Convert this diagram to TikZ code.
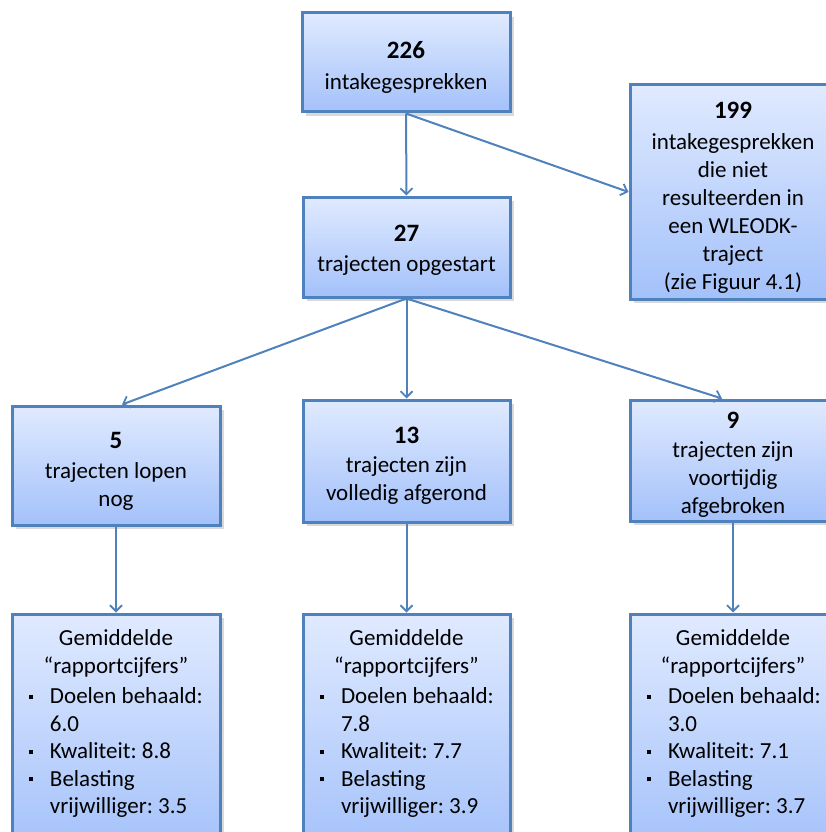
\documentclass[tikz,border=0pt]{standalone}
\usepackage{fontspec}
\setmainfont{Carlito}
\usetikzlibrary{arrows.meta,shadows,calc}
\definecolor{bordc}{RGB}{79,129,189}
\definecolor{topc}{RGB}{224,234,255}
\definecolor{botc}{RGB}{163,193,250}
\newcommand\bulitem[1]{\par\hangindent=26pt\hangafter=1\noindent\makebox[26pt][l]{\hspace{5pt}\raisebox{5pt}{\rule{4pt}{4pt}}}#1\par}
\newcommand\numtxt[1]{{\fontsize{25}{28}\selectfont\textbf{#1}}}
% boxtext{width}{height}{top gap}{content}
\newcommand\boxtext[4]{\parbox[c][#2][t]{#1}{\fontsize{23}{28}\selectfont\vspace*{#3}\centering #4\par}}
\newcommand\listtext[5]{\parbox[c][240pt][t]{#1}{\fontsize{23}{27.5}\selectfont\vspace*{16pt}\centering
  Gemiddelde\\“rapportcijfers”\par\vspace{3pt}\raggedright\frenchspacing\leftskip=12pt\relax
  \bulitem{Doelen behaald:\newline #2}
  \bulitem{Kwaliteit: #3}
  \bulitem{Belasting\newline vrijwilliger: #4}#5}}
\tikzset{
  box/.style={draw=bordc, line width=3pt, top color=topc, bottom color=botc,
    drop shadow={shadow xshift=4pt, shadow yshift=-4pt, opacity=0.25, fill=black!60},
    inner sep=0pt},
  conn/.style={draw=bordc, line width=2pt, -{Straight Barb[length=6pt,width=12pt,line width=1.8pt]}}
}
\begin{document}
\begin{tikzpicture}[x=1pt,y=-1pt]
\clip (0,0) rectangle (826,832);
\node[box] (n226) at (406,62.5)
  {\boxtext{208pt}{99pt}{28pt}{\numtxt{226}\\[3pt]intakegesprekken}};
\node[box] (n199) at (733,192)
  {\boxtext{206pt}{214pt}{17pt}{\numtxt{199}\\[3pt]intakegesprekken\\die niet\\resulteerden in\\een WLEODK-\\traject\\(zie Figuur 4.1)}};
\node[box] (n27) at (406.5,247)
  {\boxtext{207pt}{100pt}{28pt}{\numtxt{27}\\[2pt]trajecten opgestart}};
\node[box] (n5) at (116,465.5)
  {\boxtext{208pt}{119pt}{26pt}{\numtxt{5}\\[2pt]trajecten lopen\\nog}};
\node[box] (n13) at (406.5,461)
  {\boxtext{207pt}{122pt}{27pt}{\numtxt{13}\\[1pt]trajecten zijn\\volledig afgerond}};
\node[box] (n9) at (733,460.5)
  {\boxtext{206pt}{121pt}{12pt}{\numtxt{9}\\[1pt]trajecten zijn\\voortijdig\\afgebroken}};
\node[box] (g5) at (116,734)
  {\listtext{208pt}{6.0}{8.8}{3.5}{}};
\node[box] (g13) at (406.5,734)
  {\listtext{207pt}{7.8}{7.7}{3.9}{}};
\node[box] (g9) at (733,734)
  {\listtext{206pt}{3.0}{7.1}{3.7}{}};
\draw[conn] (n226.south) -- (n27.north);
\draw[conn] (n226.south) -- (n199.west);
\draw[conn] (n27.south) -- ([xshift=6pt]n5.north);
\draw[conn] (n27.south) -- (n13.north);
\draw[conn] (n27.south) -- ([xshift=-11pt]n9.north);
\draw[conn] (n5.south) -- (g5.north);
\draw[conn] (n13.south) -- (g13.north);
\draw[conn] (n9.south) -- (g9.north);
\end{tikzpicture}
\end{document}
